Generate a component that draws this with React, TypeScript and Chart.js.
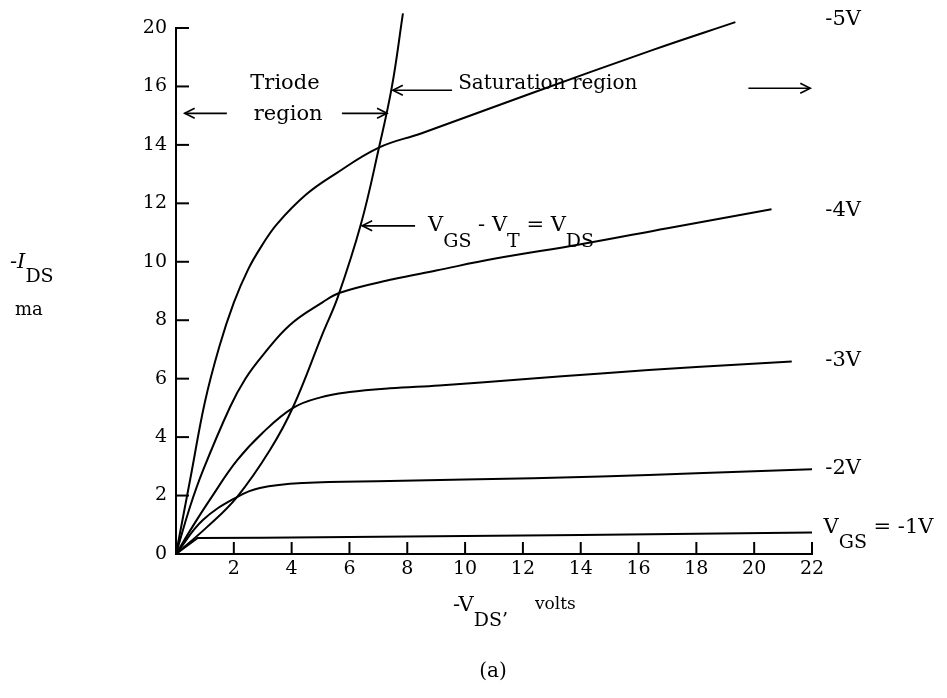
import React, { useEffect, useRef } from "react";
import { Chart, registerables } from "chart.js";

Chart.register(...registerables);

// ---- tick labels ----
const xTickLabels = ["", "2", "4", "6", "8", "10", "12", "14", "16", "18", "20", "22"];
const yTickLabels = ["0", "2", "4", "6", "8", "10", "12", "14", "16", "20"];

// ---- series (-V_DS in volts, -I_DS in mA) ----
const vgs1X = [0, 0.75, 3, 8, 14, 22];
const vgs1Y = [0, 0.55, 0.56, 0.6, 0.65, 0.74];

const vgs2X = [0, 0.93, 2.11, 2.9, 4.4, 7.4, 10, 14.7, 18, 22];
const vgs2Y = [0, 1.16, 1.95, 2.26, 2.43, 2.5, 2.55, 2.65, 2.76, 2.9];

const vgs3X = [0, 0.6, 1.18, 2.11, 3.0, 4.05, 5.0, 6.0, 7.4, 9.1, 12, 14.7, 18, 21.3];
const vgs3Y = [0, 0.98, 1.87, 3.2, 4.15, 5.0, 5.36, 5.54, 5.67, 5.77, 5.98, 6.18, 6.4, 6.59];

const vgs4X = [0, 0.48, 0.93, 1.87, 2.4, 3.0, 3.94, 5.08, 5.67, 7.5, 9, 11, 14, 17, 20.6];
const vgs4Y = [0, 1.6, 2.85, 5.03, 6.0, 6.8, 7.84, 8.62, 8.94, 9.4, 9.7, 10.1, 10.6, 11.15, 11.8];

const vgs5X = [0, 0.5, 1, 1.5, 2, 2.5, 3, 3.5, 4.5, 5.5, 7, 8.5, 12.25, 16.5, 19.35];
const vgs5Y = [0, 2.6, 5.2, 7.1, 8.6, 9.75, 10.6, 11.3, 12.3, 13.0, 13.9, 14.4, 15.75, 17.25, 18.2];

const boundaryX = [0, 1.07, 2.11, 3.25, 4.05, 5.08, 5.6, 6.4, 7.02, 7.47, 7.85];
const boundaryY = [0, 0.92, 1.95, 3.56, 5.03, 7.56, 8.8, 11.3, 13.9, 16.0, 18.5];

const FONT = '"DejaVu Serif", serif';

const pts = (xs: number[], ys: number[]) => xs.map((x, i) => ({ x, y: ys[i] }));

type Seg = { t: string; sub?: boolean; italic?: boolean; size?: number };

function drawRich(ctx: CanvasRenderingContext2D, segs: Seg[], x: number, y: number, size: number, subOff: number) {
  let cx = x;
  for (const s of segs) {
    const sz = s.size ?? (s.sub ? size - 2 : size);
    ctx.font = `${s.italic ? "italic " : ""}${sz}px ${FONT}`;
    ctx.fillText(s.t, cx, y + (s.sub ? subOff : 0));
    cx += ctx.measureText(s.t).width;
  }
}

function arrow(ctx: CanvasRenderingContext2D, x1: number, y1: number, x2: number, y2: number) {
  ctx.beginPath();
  ctx.moveTo(x1, y1);
  ctx.lineTo(x2, y2);
  ctx.stroke();
  const dir = Math.sign(x2 - x1) || 1;
  ctx.beginPath();
  ctx.moveTo(x2 - dir * 10, y2 - 5);
  ctx.lineTo(x2, y2);
  ctx.lineTo(x2 - dir * 10, y2 + 5);
  ctx.stroke();
}

const annotPlugin = {
  id: "annot",
  afterDraw(chart: any) {
    const { ctx, chartArea } = chart;
    const xs = chart.scales.x;
    const ys = chart.scales.y;
    const X = (v: number) => xs.getPixelForValue(v);
    const Y = (v: number) => ys.getPixelForValue(v);
    ctx.save();
    ctx.strokeStyle = "#000";
    ctx.fillStyle = "#000";
    ctx.lineWidth = 2;
    ctx.lineCap = "butt";

    // inner tick marks
    xs.ticks.forEach((t: any) => {
      if (t.value === 0) return;
      const px = X(t.value);
      ctx.beginPath();
      ctx.moveTo(px, chartArea.bottom);
      ctx.lineTo(px, chartArea.bottom - 12);
      ctx.stroke();
    });
    ys.ticks.forEach((t: any) => {
      if (t.value === 0) return;
      const py = Y(t.value);
      ctx.beginPath();
      ctx.moveTo(chartArea.left, py);
      ctx.lineTo(chartArea.left + 13, py);
      ctx.stroke();
    });

    ctx.lineWidth = 1.6;
    ctx.textBaseline = "middle";

    // Triode region
    ctx.font = `21px ${FONT}`;
    ctx.textAlign = "center";
    ctx.fillText("Triode", X(3.77), Y(16.1));
    ctx.fillText("region", X(3.88), Y(15.05));
    arrow(ctx, X(1.76), Y(15.08), X(0.3), Y(15.08));
    arrow(ctx, X(5.74), Y(15.08), X(7.3), Y(15.08));

    // Saturation region
    ctx.textAlign = "left";
    ctx.font = `20px ${FONT}`;
    ctx.fillText("Saturation region", X(9.76), Y(16.1));
    arrow(ctx, X(9.55), Y(15.87), X(7.5), Y(15.87));
    arrow(ctx, X(19.8), Y(15.94), X(21.94), Y(15.94));

    // boundary label
    arrow(ctx, X(8.27), Y(11.23), X(6.44), Y(11.23));
    drawRich(
      ctx,
      [{ t: "V" }, { t: "GS", sub: true }, { t: " - V" }, { t: "T", sub: true }, { t: " = V" }, { t: "DS", sub: true }],
      X(8.72),
      Y(11.23),
      21,
      16
    );

    // curve labels
    ctx.font = `21px ${FONT}`;
    ctx.fillText("-5V", X(22.46), Y(18.3));
    ctx.fillText("-4V", X(22.46), Y(11.74));
    ctx.fillText("-3V", X(22.46), Y(6.62));
    ctx.fillText("-2V", X(22.46), Y(2.94));
    drawRich(ctx, [{ t: "V" }, { t: "GS", sub: true }, { t: " = -1V" }], X(22.4), Y(0.92), 21, 16);

    // axis titles
    drawRich(ctx, [{ t: "-" }, { t: "I", italic: true }, { t: "DS", sub: true }], 10, 263, 21, 14);
    ctx.font = `18px ${FONT}`;
    ctx.fillText("ma", 15, 310);
    drawRich(ctx, [{ t: "-V" }, { t: "DS\u2019", sub: true }], 453, 606, 21, 15);
    ctx.font = `17px ${FONT}`;
    ctx.fillText("volts", 535, 605);
    ctx.font = `20px ${FONT}`;
    ctx.textAlign = "center";
    ctx.fillText("(a)", 493, 672);

    ctx.restore();
  },
};

export default function App() {
  const ref = useRef<HTMLCanvasElement | null>(null);

  useEffect(() => {
    if (!ref.current) return;
    const mk = (xs: number[], ys: number[], tension = 0.4) => ({
      data: pts(xs, ys),
      borderColor: "#000",
      borderWidth: 2,
      pointRadius: 0,
      fill: false,
      tension,
      clip: false as any,
    });
    const chart = new Chart(ref.current, {
      type: "line",
      data: {
        datasets: [
          { label: "VGS = -1V", ...mk(vgs1X, vgs1Y, 0) },
          { label: "-2V", ...mk(vgs2X, vgs2Y) },
          { label: "-3V", ...mk(vgs3X, vgs3Y) },
          { label: "-4V", ...mk(vgs4X, vgs4Y) },
          { label: "-5V", ...mk(vgs5X, vgs5Y) },
          { label: "VGS - VT = VDS", ...mk(boundaryX, boundaryY) },
        ],
      },
      options: {
        animation: false,
        responsive: false,
        layout: { padding: { left: 0, right: 135, top: 28, bottom: 0 } },
        plugins: { legend: { display: false }, tooltip: { enabled: false } },
        scales: {
          x: {
            type: "linear",
            min: 0,
            max: 22,
            grid: { display: false, drawTicks: false },
            border: { display: true, color: "#000", width: 2 },
            ticks: {
              stepSize: 2,
              padding: 4,
              color: "#000",
              font: { family: FONT, size: 19 },
              maxRotation: 0,
              callback: (v: any) => xTickLabels[Math.round(Number(v) / 2)] ?? "",
            },
            afterFit: (s: any) => {
              s.height = 144;
            },
          },
          y: {
            type: "linear",
            min: 0,
            max: 18,
            grid: { display: false, drawTicks: false },
            border: { display: true, color: "#000", width: 2 },
            ticks: {
              stepSize: 2,
              padding: 9,
              color: "#000",
              font: { family: FONT, size: 19 },
              callback: (v: any) => yTickLabels[Math.round(Number(v) / 2)] ?? "",
            },
            afterFit: (s: any) => {
              s.width = 176;
            },
          },
        },
      },
      plugins: [annotPlugin],
    });
    return () => chart.destroy();
  }, []);

  return (
    <div style={{ position: "fixed", left: 0, top: 0, width: 947, height: 698, background: "#fff" }}>
      <canvas ref={ref} width={947} height={698} />
    </div>
  );
}
